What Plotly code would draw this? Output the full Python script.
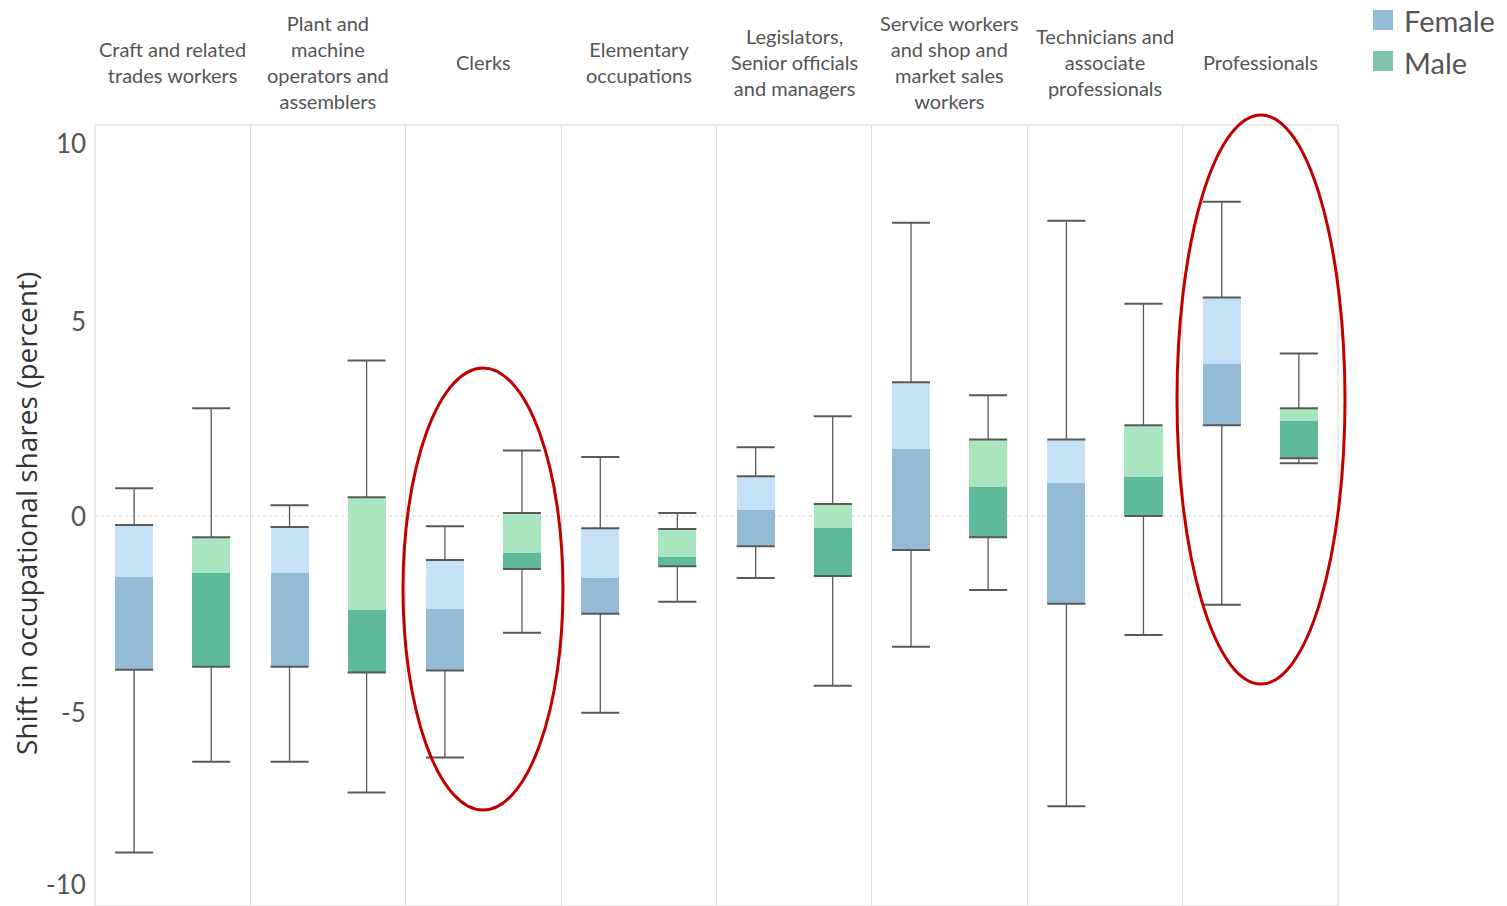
import plotly.graph_objects as go

# Occupational groups (column headers)
categories = [
    "Craft and related<br>trades workers",
    "Plant and<br>machine<br>operators and<br>assemblers",
    "Clerks",
    "Elementary<br>occupations",
    "Legislators,<br>Senior officials<br>and managers",
    "Service workers<br>and shop and<br>market sales<br>workers",
    "Technicians and<br>associate<br>professionals",
    "Professionals",
]

# Box statistics: shift in occupational shares (percent)
female_lower = [-8.6, -6.28, -6.17, -5.03, -1.58, -3.34, -7.42, -2.27]
female_q1 = [-3.93, -3.85, -3.95, -2.50, -0.77, -0.87, -2.24, 2.32]
female_median = [-1.56, -1.45, -2.37, -1.58, 0.15, 1.71, 0.84, 3.90]
female_q3 = [-0.23, -0.28, -1.12, -0.31, 1.02, 3.42, 1.96, 5.59]
female_upper = [0.71, 0.28, -0.26, 1.51, 1.76, 7.50, 7.55, 8.04]

male_lower = [-6.28, -7.07, -2.98, -2.19, -4.34, -1.89, -3.04, 1.35]
male_q1 = [-3.85, -4.00, -1.35, -1.28, -1.53, -0.54, 0.0, 1.48]
male_median = [-1.45, -2.40, -0.94, -1.05, -0.31, 0.74, 0.99, 2.42]
male_q3 = [-0.54, 0.48, 0.08, -0.33, 0.31, 1.96, 2.32, 2.76]
male_upper = [2.76, 3.98, 1.68, 0.08, 2.55, 3.09, 5.43, 4.16]

y_ticks = [-10, -5, 0, 5, 10]
legend_labels = ["Female", "Male"]
legend_colors = ["#93bbd6", "#7fc2ae"]

# Styling
FEMALE_LIGHT, FEMALE_DARK = "#c5e1f5", "#93bbd5"
MALE_LIGHT, MALE_DARK = "#a9e6c0", "#5fba99"
WHISKER = "#595959"
HEADER_FONT = "Lato"

W, H = 1507, 906
M_L, M_R, M_T, M_B = 95, 169, 125, 0
PW, PH = W - M_L - M_R, H - M_T - M_B
Y_RANGE = [-9.97, 10.0]
X_RANGE = [-0.5, len(categories) - 0.5]
OFFSET = 0.248
BOX_W = 0.245


def px_x(p):
    return (p - M_L) / PW


def px_y(p):
    return (H - M_B - p) / PH


def val_to_paper(v):
    f = (v - Y_RANGE[0]) / (Y_RANGE[1] - Y_RANGE[0])
    return min(1.0, max(0.0, f))


fig = go.Figure()


def add_group(idx_offset, lower, q1, med, q3, upper, light, dark, name):
    xs = [i + idx_offset for i in range(len(categories))]
    fig.add_trace(go.Bar(
        x=xs, base=med, y=[b - a for a, b in zip(med, q3)], width=BOX_W,
        marker=dict(color=light, line=dict(width=0)), name=name,
        showlegend=False, hoverinfo="skip"))
    fig.add_trace(go.Bar(
        x=xs, base=q1, y=[b - a for a, b in zip(q1, med)], width=BOX_W,
        marker=dict(color=dark, line=dict(width=0)), name=name,
        showlegend=False, hoverinfo="skip"))
    # whiskers
    wx, wy = [], []
    for x, lo, a, b, hi in zip(xs, lower, q1, q3, upper):
        wx += [x, x, None, x, x, None]
        wy += [lo, a, None, b, hi, None]
    fig.add_trace(go.Scatter(x=wx, y=wy, mode="lines",
                             line=dict(color=WHISKER, width=1.3),
                             showlegend=False, hoverinfo="skip"))
    # caps and box edges
    cx, cy = [], []
    for x, lo, a, b, hi in zip(xs, lower, q1, q3, upper):
        for v in (lo, a, b, hi):
            cx += [x - BOX_W / 2, x + BOX_W / 2, None]
            cy += [v, v, None]
    fig.add_trace(go.Scatter(x=cx, y=cy, mode="lines",
                             line=dict(color=WHISKER, width=2),
                             showlegend=False, hoverinfo="skip"))


add_group(-OFFSET, female_lower, female_q1, female_median, female_q3,
          female_upper, FEMALE_LIGHT, FEMALE_DARK, "Female")
add_group(OFFSET, male_lower, male_q1, male_median, male_q3,
          male_upper, MALE_LIGHT, MALE_DARK, "Male")

shapes = []
# zero reference line
shapes.append(dict(type="line", xref="paper", yref="y", x0=0, x1=1, y0=0, y1=0,
                   line=dict(color="#d0d0d0", width=1, dash="dot"), layer="below"))
# plot frame
shapes.append(dict(type="rect", xref="paper", yref="paper", x0=0, x1=1, y0=0, y1=1,
                   line=dict(color="#d9d9d9", width=1), layer="below"))

# highlight ellipses (pixel bounds)
for x0, x1, y0, y1 in [(403, 563, 368, 810), (1177, 1345, 115, 684)]:
    shapes.append(dict(type="circle", xref="paper", yref="paper",
                       x0=px_x(x0), x1=px_x(x1), y0=px_y(y1), y1=px_y(y0),
                       line=dict(color="#c00000", width=3), layer="above"))

annotations = []
# column headers
for i, c in enumerate(categories):
    annotations.append(dict(x=i, xref="x", y=px_y(62), yref="paper", text=c,
                            showarrow=False, xanchor="center", yanchor="middle",
                            font=dict(family=HEADER_FONT, size=20, color="#555555"),
                            align="center"))
# y tick labels (end labels kept inside the frame)
for t in y_ticks:
    if t == max(y_ticks):
        ya, ys = "top", 0
    elif t == min(y_ticks):
        ya, ys = "bottom", 4
    else:
        ya, ys = "middle", 0
    annotations.append(dict(x=0, xref="paper", y=val_to_paper(t), yref="paper",
                            text=str(t), showarrow=False, xanchor="right",
                            yanchor=ya, xshift=-7, yshift=ys,
                            font=dict(family=HEADER_FONT, size=26, color="#555555")))
# y axis title
annotations.append(dict(x=px_x(26), xref="paper", y=px_y(514), yref="paper",
                        text="Shift in occupational shares (percent)", textangle=-90,
                        showarrow=False, xanchor="center", yanchor="middle",
                        font=dict(family="Open Sans", size=28, color="#333333")))
# legend
for k, (lab, col) in enumerate(zip(legend_labels, legend_colors)):
    cy = 20 + 41 * k
    shapes.append(dict(type="rect", xref="paper", yref="paper",
                       x0=px_x(1373), x1=px_x(1393), y0=px_y(cy + 10), y1=px_y(cy - 10),
                       fillcolor=col, line=dict(width=0)))
    annotations.append(dict(x=px_x(1402), xref="paper", y=px_y(cy + 1), yref="paper",
                            text=lab, showarrow=False, xanchor="left", yanchor="middle",
                            font=dict(family=HEADER_FONT, size=29, color="#555555")))

fig.update_layout(
    width=W, height=H,
    margin=dict(l=M_L, r=M_R, t=M_T, b=M_B),
    paper_bgcolor="white", plot_bgcolor="white",
    barmode="overlay", bargap=0,
    showlegend=False,
    shapes=shapes, annotations=annotations,
    xaxis=dict(range=X_RANGE, tickvals=[i + 0.5 for i in range(len(categories) - 1)],
               showticklabels=False, ticks="", showgrid=True, gridcolor="#dcdcdc",
               gridwidth=1, zeroline=False, showline=False, fixedrange=True),
    yaxis=dict(range=Y_RANGE, showgrid=False, zeroline=False, showticklabels=False,
               ticks="", showline=False, fixedrange=True),
)

fig.write_html("out.html")
